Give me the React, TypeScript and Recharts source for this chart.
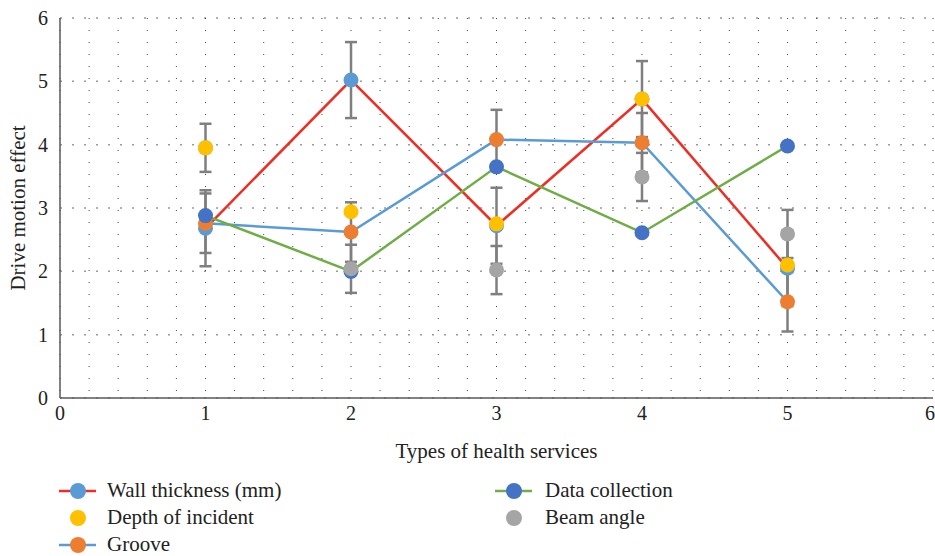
import {
  CartesianGrid,
  ComposedChart,
  ErrorBar,
  Label,
  Line,
  Scatter,
  XAxis,
  YAxis,
} from 'recharts';

const serviceTypes = [1, 2, 3, 4, 5];
const wallThickness = [2.68, 5.02, 2.72, 4.72, 2.05];
const depthOfIncident = [3.95, 2.94, 2.75, 4.72, 2.1];
const groove = [2.76, 2.62, 4.08, 4.03, 1.52];
const dataCollection = [2.88, 2.0, 3.65, 2.61, 3.98];
const beamAngle = [3.95, 2.04, 2.02, 3.49, 2.59];
const wallError = [0.6, 0.6, 0.6, 0.6, 0.6];
const grooveError = [0.47, 0.47, 0.47, 0.47, 0.47];
const beamError = [0.38, 0.38, 0.38, 0.38, 0.38];
const xTicks = [0, 1, 2, 3, 4, 5, 6];
const yTicks = [0, 1, 2, 3, 4, 5, 6];

const rows = serviceTypes.map((x, i) => ({
  x,
  wall: wallThickness[i],
  depth: depthOfIncident[i],
  groove: groove[i],
  collection: dataCollection[i],
  beam: beamAngle[i],
  wallErr: wallError[i],
  grooveErr: grooveError[i],
  beamErr: beamError[i],
}));

const FONT = '"Liberation Serif", "DejaVu Serif", serif';
const RED = '#EE2E24';
const LIGHT_BLUE = '#5B9BD5';
const YELLOW = '#FFC000';
const ORANGE = '#ED7D31';
const DARK_BLUE = '#4472C4';
const GRAY = '#A5A5A5';
const GREEN = '#70AD47';
const ERR = '#7F7F7F';

const marker = (color: string) => (props: any) => (
  <circle cx={props.cx} cy={props.cy} r={7.5} fill={color} />
);

function LegendIcon({ line, dot }: { line?: string; dot: string }) {
  return (
    <svg width={37} height={18} style={{ display: 'block' }}>
      {line && <line x1={0} y1={9} x2={37} y2={9} stroke={line} strokeWidth={2.5} />}
      <circle cx={19} cy={9} r={8} fill={dot} />
    </svg>
  );
}

function LegendItem({ line, dot, text, gap }: { line?: string; dot: string; text: string; gap: number }) {
  return (
    <div style={{ display: 'flex', alignItems: 'center', height: 27 }}>
      <LegendIcon line={line} dot={dot} />
      <span style={{ marginLeft: gap }}>{text}</span>
    </div>
  );
}

export default function App() {
  return (
    <div style={{ position: 'absolute', left: 0, top: 0, width: 935, height: 556, fontFamily: FONT, color: '#222' }}>
      <ComposedChart
        width={935}
        height={556}
        data={rows}
        margin={{ top: 18, right: 2, left: 0, bottom: 98 }}
      >
        <CartesianGrid
          vertical={false}
          stroke="#9A9A9A"
          strokeWidth={1.5}
          strokeDasharray="2 10"
        />
        <CartesianGrid
          horizontal={false}
          stroke="#444"
          strokeWidth={1}
          strokeDasharray="1 11"
          verticalCoordinatesGenerator={({ offset }: any) =>
            Array.from({ length: 31 }, (_, i) => offset.left + (i / 30) * offset.width)
          }
        />
        <XAxis
          dataKey="x"
          type="number"
          domain={[0, 6]}
          ticks={xTicks}
          axisLine={{ stroke: '#595959', strokeWidth: 1.5 }}
          tickLine={false}
          tick={{ fontSize: 20, fill: '#222', fontFamily: FONT }}
          height={60}
        >
          <Label
            value="Types of health services"
            position="insideBottom"
            offset={0}
            style={{ fontSize: 21, fill: '#222', fontFamily: FONT }}
          />
        </XAxis>
        <YAxis
          type="number"
          domain={[0, 6]}
          ticks={yTicks}
          axisLine={{ stroke: '#595959', strokeWidth: 1.5 }}
          tickLine={false}
          tickSize={10}
          tick={{ fontSize: 20, fill: '#222', fontFamily: FONT }}
          width={60}
        >
          <Label
            value="Drive motion effect"
            angle={-90}
            position="insideLeft"
            offset={18}
            style={{ fontSize: 21, fill: '#222', fontFamily: FONT, textAnchor: 'middle' }}
          />
        </YAxis>

        <Line type="linear" dataKey="wall" stroke={RED} strokeWidth={2.5} dot={false} activeDot={false} isAnimationActive={false} />
        <Line type="linear" dataKey="groove" stroke={LIGHT_BLUE} strokeWidth={2.5} dot={false} activeDot={false} isAnimationActive={false} />
        <Line type="linear" dataKey="collection" stroke={GREEN} strokeWidth={2.5} dot={false} activeDot={false} isAnimationActive={false} />

        <Scatter dataKey="wall" fill={LIGHT_BLUE} shape={marker(LIGHT_BLUE)} isAnimationActive={false}>
          <ErrorBar dataKey="wallErr" direction="y" width={6} strokeWidth={2.5} stroke={ERR} />
        </Scatter>
        <Scatter dataKey="groove" fill={ORANGE} shape={marker(ORANGE)} isAnimationActive={false}>
          <ErrorBar dataKey="grooveErr" direction="y" width={6} strokeWidth={2.5} stroke={ERR} />
        </Scatter>
        <Scatter dataKey="collection" fill={DARK_BLUE} shape={marker(DARK_BLUE)} isAnimationActive={false} />
        <Scatter dataKey="beam" fill={GRAY} shape={marker(GRAY)} isAnimationActive={false}>
          <ErrorBar dataKey="beamErr" direction="y" width={6} strokeWidth={2.5} stroke={ERR} />
        </Scatter>
        <Scatter dataKey="depth" fill={YELLOW} shape={marker(YELLOW)} isAnimationActive={false} />
      </ComposedChart>

      <div style={{ position: 'absolute', left: 59, top: 477, fontSize: 21 }}>
        <LegendItem line={RED} dot={LIGHT_BLUE} text="Wall thickness (mm)" gap={11} />
        <LegendItem dot={YELLOW} text="Depth of incident" gap={11} />
        <LegendItem line={LIGHT_BLUE} dot={ORANGE} text="Groove" gap={11} />
      </div>
      <div style={{ position: 'absolute', left: 495, top: 477, fontSize: 21 }}>
        <LegendItem line={GREEN} dot={DARK_BLUE} text="Data collection" gap={13} />
        <LegendItem dot={GRAY} text="Beam angle" gap={13} />
      </div>
    </div>
  );
}
